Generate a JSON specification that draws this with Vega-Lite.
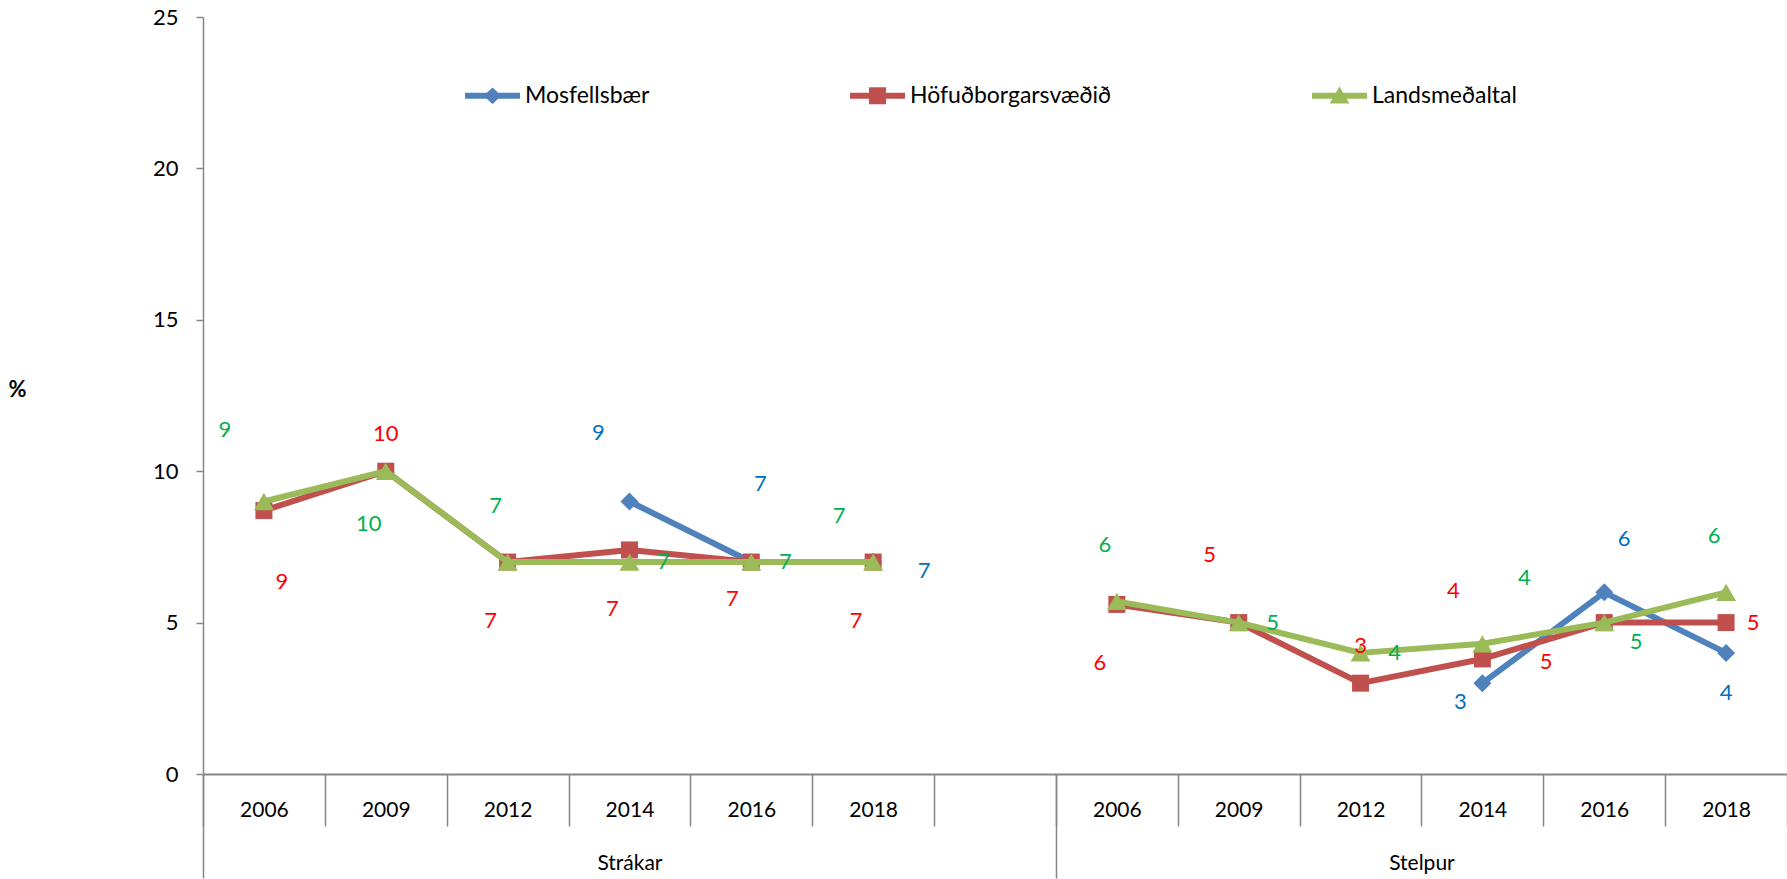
{
  "$schema": "https://vega.github.io/schema/vega-lite/v6.json",
  "width": 1584,
  "height": 757,
  "autosize": {"type": "none"},
  "padding": {"left": 203, "top": 17, "right": 0, "bottom": 105},
  "background": "white",
  "config": {"view": {"stroke": null}, "font": "Lato"},
  "data": {
    "values": [
      {"series": "Mosfellsbær", "grp": "Strákar", "slot": "S2014", "value": 9},
      {"series": "Mosfellsbær", "grp": "Strákar", "slot": "S2016", "value": 7},
      {"series": "Mosfellsbær", "grp": "Strákar", "slot": "S2018", "value": 7},
      {"series": "Mosfellsbær", "grp": "Stelpur", "slot": "G2014", "value": 3},
      {"series": "Mosfellsbær", "grp": "Stelpur", "slot": "G2016", "value": 6},
      {"series": "Mosfellsbær", "grp": "Stelpur", "slot": "G2018", "value": 4},
      {"series": "Höfuðborgarsvæðið", "grp": "Strákar", "slot": "S2006", "value": 8.7},
      {"series": "Höfuðborgarsvæðið", "grp": "Strákar", "slot": "S2009", "value": 10},
      {"series": "Höfuðborgarsvæðið", "grp": "Strákar", "slot": "S2012", "value": 7},
      {"series": "Höfuðborgarsvæðið", "grp": "Strákar", "slot": "S2014", "value": 7.4},
      {"series": "Höfuðborgarsvæðið", "grp": "Strákar", "slot": "S2016", "value": 7},
      {"series": "Höfuðborgarsvæðið", "grp": "Strákar", "slot": "S2018", "value": 7},
      {"series": "Höfuðborgarsvæðið", "grp": "Stelpur", "slot": "G2006", "value": 5.6},
      {"series": "Höfuðborgarsvæðið", "grp": "Stelpur", "slot": "G2009", "value": 5},
      {"series": "Höfuðborgarsvæðið", "grp": "Stelpur", "slot": "G2012", "value": 3},
      {"series": "Höfuðborgarsvæðið", "grp": "Stelpur", "slot": "G2014", "value": 3.8},
      {"series": "Höfuðborgarsvæðið", "grp": "Stelpur", "slot": "G2016", "value": 5},
      {"series": "Höfuðborgarsvæðið", "grp": "Stelpur", "slot": "G2018", "value": 5},
      {"series": "Landsmeðaltal", "grp": "Strákar", "slot": "S2006", "value": 9},
      {"series": "Landsmeðaltal", "grp": "Strákar", "slot": "S2009", "value": 10},
      {"series": "Landsmeðaltal", "grp": "Strákar", "slot": "S2012", "value": 7},
      {"series": "Landsmeðaltal", "grp": "Strákar", "slot": "S2014", "value": 7},
      {"series": "Landsmeðaltal", "grp": "Strákar", "slot": "S2016", "value": 7},
      {"series": "Landsmeðaltal", "grp": "Strákar", "slot": "S2018", "value": 7},
      {"series": "Landsmeðaltal", "grp": "Stelpur", "slot": "G2006", "value": 5.7},
      {"series": "Landsmeðaltal", "grp": "Stelpur", "slot": "G2009", "value": 5},
      {"series": "Landsmeðaltal", "grp": "Stelpur", "slot": "G2012", "value": 4},
      {"series": "Landsmeðaltal", "grp": "Stelpur", "slot": "G2014", "value": 4.3},
      {"series": "Landsmeðaltal", "grp": "Stelpur", "slot": "G2016", "value": 5},
      {"series": "Landsmeðaltal", "grp": "Stelpur", "slot": "G2018", "value": 6}
    ]
  },
  "layer": [
    {
      "encoding": {
        "x": {
          "field": "slot", "type": "nominal",
          "scale": {"type": "band", "domain": ["S2006","S2009","S2012","S2014","S2016","S2018","gap","G2006","G2009","G2012","G2014","G2016","G2018"], "paddingInner": 0, "paddingOuter": 0},
          "axis": {"title": null, "orient": "bottom", "tickBand": "extent", "tickSize": 52, "tickColor": "#868686", "tickWidth": 1.5, "domainColor": "#868686", "domainWidth": 2, "labelExpr": "datum.value && datum.value != 'gap' ? slice(datum.value, 1) : ''", "labelFont": "Lato", "labelFontSize": 21, "labelColor": "#000000", "labelPadding": -16, "labelBaseline": "middle", "labelAngle": 0, "grid": false}
        },
        "y": {
          "field": "value", "type": "quantitative",
          "scale": {"domain": [0, 25], "nice": false},
          "axis": {"title": "%", "values": [0,5,10,15,20,25], "grid": false, "domainColor": "#868686", "domainWidth": 1.5, "tickColor": "#868686", "tickSize": 7, "tickWidth": 1.5, "labelPadding": 18, "labelFont": "Lato", "labelFontSize": 22, "labelColor": "#000000", "titleAngle": 0, "titleX": -186, "titleY": 384, "titleFont": "Lato", "titleFontSize": 22, "titleFontWeight": "bold", "titleColor": "#000000"}
        }
      },
      "layer": [
        {"transform": [{"filter": {"field": "series", "equal": "Mosfellsbær"}}],
         "mark": {"type": "line", "strokeWidth": 6, "strokeJoin": "round"},
         "encoding": {"color": {"field": "series", "type": "nominal", "scale": {"domain": ["Mosfellsbær","Höfuðborgarsvæðið","Landsmeðaltal"], "range": ["#4F81BD","#C0504D","#9BBB59"]},
           "legend": {"orient": "none", "legendX": 278, "legendY": 67, "direction": "horizontal", "title": null, "padding": 0, "columnPadding": 200, "labelFont": "Lato", "labelFontSize": 23, "labelColor": "#000000", "labelOffset": 21, "labelLimit": 400, "symbolSize": 430,
             "encode": {"symbols": {"update": {
               "shape": {"signal": "datum.value == 'Mosfellsbær' ? 'M-2.65,-0.29L2.65,-0.29L2.65,0.29L-2.65,0.29ZM0,-0.8L0.87,0L0,0.8L-0.87,0Z' : datum.value == 'Höfuðborgarsvæðið' ? 'M-2.65,-0.29L2.65,-0.29L2.65,0.29L-2.65,0.29ZM-0.82,-0.82L0.82,-0.82L0.82,0.82L-0.82,0.82Z' : 'M-2.65,-0.29L2.65,-0.29L2.65,0.29L-2.65,0.29ZM0,-0.9L0.95,0.75L-0.95,0.75Z'"},
               "fill": {"signal": "datum.value == 'Mosfellsbær' ? '#4F81BD' : datum.value == 'Höfuðborgarsvæðið' ? '#C0504D' : '#9BBB59'"},
               "stroke": {"value": "transparent"},
               "strokeWidth": {"value": 0},
               "opacity": {"value": 1},
               "size": {"value": 430}
             }}}}},
           "detail": {"field": "grp", "type": "nominal"}}},
        {"transform": [{"filter": {"field": "series", "equal": "Mosfellsbær"}}],
         "mark": {"type": "point", "shape": "diamond", "filled": true, "size": 324, "opacity": 1},
         "encoding": {"color": {"field": "series", "type": "nominal"}}},
        {"transform": [{"filter": {"field": "series", "equal": "Höfuðborgarsvæðið"}}],
         "mark": {"type": "line", "strokeWidth": 6, "strokeJoin": "round"},
         "encoding": {"color": {"field": "series", "type": "nominal"}, "detail": {"field": "grp", "type": "nominal"}}},
        {"transform": [{"filter": {"field": "series", "equal": "Höfuðborgarsvæðið"}}],
         "mark": {"type": "point", "shape": "square", "filled": true, "size": 289, "opacity": 1},
         "encoding": {"color": {"field": "series", "type": "nominal"}}},
        {"transform": [{"filter": {"field": "series", "equal": "Landsmeðaltal"}}],
         "mark": {"type": "line", "strokeWidth": 6, "strokeJoin": "round"},
         "encoding": {"color": {"field": "series", "type": "nominal"}, "detail": {"field": "grp", "type": "nominal"}}},
        {"transform": [{"filter": {"field": "series", "equal": "Landsmeðaltal"}}],
         "mark": {"type": "point", "shape": "triangle-up", "filled": true, "size": 400, "opacity": 1},
         "encoding": {"color": {"field": "series", "type": "nominal"}}},

        {"transform": [{"filter": {"and": [{"field": "series", "equal": "Mosfellsbær"}, {"field": "slot", "oneOf": ["S2014"]}]}}], "mark": {"type": "text", "color": "#0070C0", "fontSize": 22, "dx": -31, "dy": -68}, "encoding": {"text": {"field": "value", "type": "quantitative", "format": ".0f"}}},
        {"transform": [{"filter": {"and": [{"field": "series", "equal": "Mosfellsbær"}, {"field": "slot", "oneOf": ["S2016"]}]}}], "mark": {"type": "text", "color": "#0070C0", "fontSize": 22, "dx": 9, "dy": -78}, "encoding": {"text": {"field": "value", "type": "quantitative", "format": ".0f"}}},
        {"transform": [{"filter": {"and": [{"field": "series", "equal": "Mosfellsbær"}, {"field": "slot", "oneOf": ["S2018"]}]}}], "mark": {"type": "text", "color": "#0070C0", "fontSize": 22, "dx": 51, "dy": 9}, "encoding": {"text": {"field": "value", "type": "quantitative", "format": ".0f"}}},
        {"transform": [{"filter": {"and": [{"field": "series", "equal": "Mosfellsbær"}, {"field": "slot", "oneOf": ["G2014"]}]}}], "mark": {"type": "text", "color": "#0070C0", "fontSize": 22, "dx": -22, "dy": 19}, "encoding": {"text": {"field": "value", "type": "quantitative", "format": ".0f"}}},
        {"transform": [{"filter": {"and": [{"field": "series", "equal": "Mosfellsbær"}, {"field": "slot", "oneOf": ["G2016"]}]}}], "mark": {"type": "text", "color": "#0070C0", "fontSize": 22, "dx": 20, "dy": -53}, "encoding": {"text": {"field": "value", "type": "quantitative", "format": ".0f"}}},
        {"transform": [{"filter": {"and": [{"field": "series", "equal": "Mosfellsbær"}, {"field": "slot", "oneOf": ["G2018"]}]}}], "mark": {"type": "text", "color": "#0070C0", "fontSize": 22, "dx": 0, "dy": 40}, "encoding": {"text": {"field": "value", "type": "quantitative", "format": ".0f"}}},

        {"transform": [{"filter": {"and": [{"field": "series", "equal": "Höfuðborgarsvæðið"}, {"field": "slot", "oneOf": ["S2012","S2014","S2018","G2006"]}]}}], "mark": {"type": "text", "color": "#FF0000", "fontSize": 22, "dx": -17, "dy": 59}, "encoding": {"text": {"field": "value", "type": "quantitative", "format": ".0f"}}},
        {"transform": [{"filter": {"and": [{"field": "series", "equal": "Höfuðborgarsvæðið"}, {"field": "slot", "oneOf": ["S2009","G2012"]}]}}], "mark": {"type": "text", "color": "#FF0000", "fontSize": 22, "dx": 0, "dy": -37}, "encoding": {"text": {"field": "value", "type": "quantitative", "format": ".0f"}}},
        {"transform": [{"filter": {"and": [{"field": "series", "equal": "Höfuðborgarsvæðið"}, {"field": "slot", "oneOf": ["G2009","G2014"]}]}}], "mark": {"type": "text", "color": "#FF0000", "fontSize": 22, "dx": -29, "dy": -68}, "encoding": {"text": {"field": "value", "type": "quantitative", "format": ".0f"}}},
        {"transform": [{"filter": {"and": [{"field": "series", "equal": "Höfuðborgarsvæðið"}, {"field": "slot", "oneOf": ["S2006"]}]}}], "mark": {"type": "text", "color": "#FF0000", "fontSize": 22, "dx": 18, "dy": 71}, "encoding": {"text": {"field": "value", "type": "quantitative", "format": ".0f"}}},
        {"transform": [{"filter": {"and": [{"field": "series", "equal": "Höfuðborgarsvæðið"}, {"field": "slot", "oneOf": ["S2016"]}]}}], "mark": {"type": "text", "color": "#FF0000", "fontSize": 22, "dx": -19, "dy": 37}, "encoding": {"text": {"field": "value", "type": "quantitative", "format": ".0f"}}},
        {"transform": [{"filter": {"and": [{"field": "series", "equal": "Höfuðborgarsvæðið"}, {"field": "slot", "oneOf": ["G2016"]}]}}], "mark": {"type": "text", "color": "#FF0000", "fontSize": 22, "dx": -58, "dy": 39}, "encoding": {"text": {"field": "value", "type": "quantitative", "format": ".0f"}}},
        {"transform": [{"filter": {"and": [{"field": "series", "equal": "Höfuðborgarsvæðið"}, {"field": "slot", "oneOf": ["G2018"]}]}}], "mark": {"type": "text", "color": "#FF0000", "fontSize": 22, "dx": 27, "dy": 0}, "encoding": {"text": {"field": "value", "type": "quantitative", "format": ".0f"}}},

        {"transform": [{"filter": {"and": [{"field": "series", "equal": "Landsmeðaltal"}, {"field": "slot", "oneOf": ["S2014","S2016","G2009","G2012"]}]}}], "mark": {"type": "text", "color": "#00B050", "fontSize": 22, "dx": 34, "dy": 0}, "encoding": {"text": {"field": "value", "type": "quantitative", "format": ".0f"}}},
        {"transform": [{"filter": {"and": [{"field": "series", "equal": "Landsmeðaltal"}, {"field": "slot", "oneOf": ["S2012","G2006","G2018"]}]}}], "mark": {"type": "text", "color": "#00B050", "fontSize": 22, "dx": -12, "dy": -56}, "encoding": {"text": {"field": "value", "type": "quantitative", "format": ".0f"}}},
        {"transform": [{"filter": {"and": [{"field": "series", "equal": "Landsmeðaltal"}, {"field": "slot", "oneOf": ["S2009"]}]}}], "mark": {"type": "text", "color": "#00B050", "fontSize": 22, "dx": -17, "dy": 53}, "encoding": {"text": {"field": "value", "type": "quantitative", "format": ".0f"}}},
        {"transform": [{"filter": {"and": [{"field": "series", "equal": "Landsmeðaltal"}, {"field": "slot", "oneOf": ["S2006"]}]}}], "mark": {"type": "text", "color": "#00B050", "fontSize": 22, "dx": -39, "dy": -71}, "encoding": {"text": {"field": "value", "type": "quantitative", "format": ".0f"}}},
        {"transform": [{"filter": {"and": [{"field": "series", "equal": "Landsmeðaltal"}, {"field": "slot", "oneOf": ["S2018"]}]}}], "mark": {"type": "text", "color": "#00B050", "fontSize": 22, "dx": -34, "dy": -46}, "encoding": {"text": {"field": "value", "type": "quantitative", "format": ".0f"}}},
        {"transform": [{"filter": {"and": [{"field": "series", "equal": "Landsmeðaltal"}, {"field": "slot", "oneOf": ["G2014"]}]}}], "mark": {"type": "text", "color": "#00B050", "fontSize": 22, "dx": 42, "dy": -66}, "encoding": {"text": {"field": "value", "type": "quantitative", "format": ".0f"}}},
        {"transform": [{"filter": {"and": [{"field": "series", "equal": "Landsmeðaltal"}, {"field": "slot", "oneOf": ["G2016"]}]}}], "mark": {"type": "text", "color": "#00B050", "fontSize": 22, "dx": 32, "dy": 19}, "encoding": {"text": {"field": "value", "type": "quantitative", "format": ".0f"}}}
      ]
    },
    {
      "data": {"values": [{"grp": "Strákar", "gpos": 3.5}, {"grp": "Stelpur", "gpos": 10}]},
      "mark": {"type": "text", "opacity": 0},
      "encoding": {
        "x": {"field": "gpos", "type": "quantitative", "scale": {"domain": [0, 13], "nice": false, "zero": false},
          "axis": {"title": null, "orient": "bottom", "values": [0, 3.5, 7, 10], "domain": false, "grid": false, "tickSize": 104, "tickColor": "#868686", "tickWidth": 1.5,
            "tickOpacity": {"condition": {"test": "datum.value == 0 || datum.value == 7", "value": 1}, "value": 0},
            "labelExpr": "datum.value == 3.5 ? 'Strákar' : datum.value == 10 ? 'Stelpur' : ''",
            "labelFont": "Lato", "labelFontSize": 21, "labelColor": "#000000", "labelPadding": -15, "labelBaseline": "middle", "labelOverlap": false, "labelFlush": false}},
        "y": {"datum": 0, "type": "quantitative"},
        "text": {"field": "grp"}
      }
    }
  ],
  "resolve": {"scale": {"x": "independent"}}
}
